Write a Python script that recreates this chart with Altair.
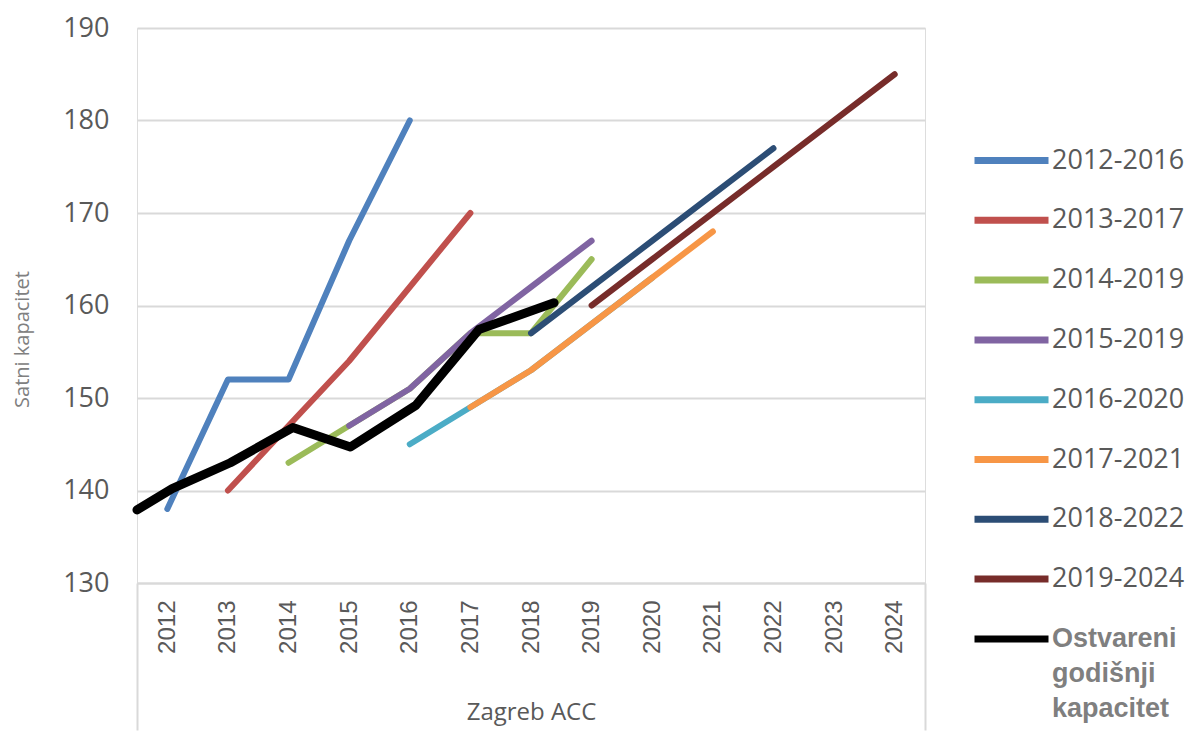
import altair as alt
import pandas as pd

# ---- data ----
years_all = list(range(2012, 2025))
series_names = ["2012-2016", "2013-2017", "2014-2019", "2015-2019",
                "2016-2020", "2017-2021", "2018-2022", "2019-2024"]
actual_name = "Ostvareni godišnji kapacitet"
colors = ["#4F81BD", "#C0504D", "#9BBB59", "#8064A2", "#4BACC6",
          "#F79646", "#2C4D75", "#772C2A", "#000000"]

years_2012_2016 = [2012, 2013, 2014, 2015, 2016]
plan_2012_2016 = [138, 152, 152, 167, 180]
years_2013_2017 = [2013, 2014, 2015, 2016, 2017]
plan_2013_2017 = [140, 147, 154, 162, 170]
years_2014_2019 = [2014, 2015, 2016, 2017, 2018, 2019]
plan_2014_2019 = [143, 147, 151, 157, 157, 165]
years_2015_2019 = [2015, 2016, 2017, 2018, 2019]
plan_2015_2019 = [147, 151, 157, 162, 167]
years_2016_2020 = [2016, 2017, 2018, 2019, 2020]
plan_2016_2020 = [145, 149, 153, 158, 163]
years_2017_2021 = [2017, 2018, 2019, 2020, 2021]
plan_2017_2021 = [149, 153, 158, 163, 168]
years_2018_2022 = [2018, 2019, 2020, 2021, 2022]
plan_2018_2022 = [157, 162, 167, 172, 177]
years_2019_2024 = [2019, 2020, 2021, 2022, 2023, 2024]
plan_2019_2024 = [160, 165, 170, 175, 180, 185]

actual_x = [2011.5, 2012.08, 2013.04, 2014.07, 2015.02, 2016.1, 2017.14, 2018.38]
actual_y = [137.9, 140.2, 143.0, 146.8, 144.7, 149.2, 157.4, 160.3]

# category-axis frame edges (half a category outside first/last year)
frame_edges = [2011.5, 2024.5]

plan_years = [years_2012_2016, years_2013_2017, years_2014_2019, years_2015_2019,
              years_2016_2020, years_2017_2021, years_2018_2022, years_2019_2024]
plan_values = [plan_2012_2016, plan_2013_2017, plan_2014_2019, plan_2015_2019,
               plan_2016_2020, plan_2017_2021, plan_2018_2022, plan_2019_2024]

rows = []
for name, ys, vs in zip(series_names, plan_years, plan_values):
    for yr, v in zip(ys, vs):
        rows.append({"series": name, "year": yr, "value": v})
plan_df = pd.DataFrame(rows)
actual_df = pd.DataFrame({"series": actual_name, "year": actual_x, "value": actual_y})

GRID = "#d9d9d9"
TXT = "#595959"
is_actual = "datum.label == 'Ostvareni godišnji kapacitet'"

x_scale = alt.Scale(domain=frame_edges, nice=False, zero=False)

x_labeled = alt.X(
    "year:Q",
    scale=x_scale,
    axis=alt.Axis(
        orient="bottom",
        values=years_all,
        format="d",
        labelAngle=270, labelAlign="right", labelBaseline="middle",
        labelFont="Liberation Sans", labelFontSize=24, labelColor=TXT,
        labelPadding=17, labelOverlap=False, labelFlush=False,
        grid=False, domainColor=GRID, domainWidth=2, ticks=False,
        title="Zagreb ACC", titleFont="Open Sans", titleFontSize=24,
        titleFontWeight="normal", titleColor=TXT, titleY=129, titleBaseline="middle",
    ),
)

x_frame = alt.X(
    "year:Q",
    scale=x_scale,
    axis=alt.Axis(
        orient="bottom",
        values=frame_edges,
        labels=False, domain=False, grid=False,
        ticks=True, tickColor=GRID, tickWidth=2, tickSize=147,
        title=None,
    ),
)

y_enc = alt.Y(
    "value:Q",
    scale=alt.Scale(domain=[130, 190], nice=False, zero=False),
    axis=alt.Axis(
        values=[130, 140, 150, 160, 170, 180, 190],
        grid=True, gridColor=GRID, gridWidth=2,
        domain=False, ticks=False,
        labelFont="Open Sans", labelFontSize=27, labelColor=TXT, labelPadding=28,
        title="Satni kapacitet", titleFont="Open Sans", titleFontSize=20,
        titleFontWeight="normal", titleColor="#808080",
        titleX=-115, titleY=311, titleAngle=270, titleBaseline="middle",
    ),
)

legend = alt.Legend(
    title=None, orient="none", legendX=834, legendY=92,
    symbolType="stroke", symbolSize=5476, symbolStrokeWidth=7,
    labelFont={"expr": is_actual + " ? 'Liberation Sans' : 'Open Sans'"},
    labelFontWeight={"expr": is_actual + " ? 'bold' : 'normal'"},
    labelColor={"expr": is_actual + " ? '#7f7f7f' : '#595959'"},
    labelFontSize=27,
    labelExpr=is_actual + " ? ['Ostvareni', 'godišnji', 'kapacitet'] : datum.label",
    labelLimit=400, rowPadding=4.8, labelOffset=0,
)

color_enc = alt.Color(
    "series:N",
    scale=alt.Scale(domain=series_names + [actual_name], range=colors),
    legend=legend,
)

plan_layers = []
for name in series_names:
    plan_layers.append(
        alt.Chart(plan_df)
        .transform_filter(alt.datum.series == name)
        .mark_line(strokeWidth=6, strokeCap="round", strokeJoin="round")
        .encode(x=x_labeled, y=y_enc, color=color_enc)
    )
plans = alt.layer(*plan_layers)

actual = (
    alt.Chart(actual_df)
    .mark_line(strokeWidth=9, strokeCap="round", strokeJoin="round")
    .encode(x=x_frame, y=y_enc, color=color_enc)
)

chart = (
    alt.layer(plans, actual)
    .resolve_axis(x="independent")
    .properties(
        width=788, height=555,
        autosize=alt.AutoSizeParams(type="none"),
        padding={"left": 129, "top": 20, "right": 263, "bottom": 151},
        background="white",
    )
    .configure_view(stroke=None)
    .configure(style={"guide-label": {"lineHeight": 35}})
)

chart.save("out.html", embed_options={"renderer": "svg", "actions": False})
